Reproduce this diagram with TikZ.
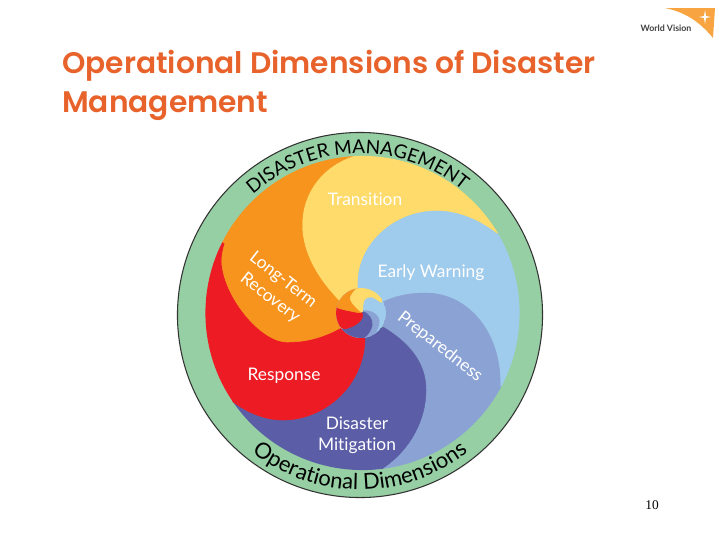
\documentclass[tikz,border=0pt]{standalone}
\usepackage{fontspec}
\usetikzlibrary{decorations.text}
\setmainfont{Liberation Serif}
\newfontfamily\titlefont[BoldFont={Poppins SemiBold}]{Poppins}
\newfontfamily\labelfont[Ligatures=NoCommon]{Lato}
\definecolor{ringgreen}{HTML}{97CFA4}
\definecolor{swirlyellow}{HTML}{FEDB6A}
\definecolor{swirlorange}{HTML}{F7941E}
\definecolor{swirlred}{HTML}{ED1C24}
\definecolor{swirldark}{HTML}{5B5EA6}
\definecolor{swirlperi}{HTML}{8BA2D4}
\definecolor{swirlblue}{HTML}{9FCBEC}
\definecolor{titleorange}{HTML}{E8632B}
\tikzset{
  petal/.style={fill=#1,draw=#1,line width=.4pt},
  titletext/.style={anchor=base west,inner sep=0pt,text=titleorange,font=\titlefont\bfseries\fontsize{22.3pt}{27pt}\selectfont},
  swirltext/.style={inner sep=0pt,text=white,font=\labelfont\fontsize{13pt}{15pt}\selectfont}
}
\newcommand{\hubshape}[2]{\path[petal=#1] plot[smooth cycle,tension=.6] coordinates {#2};}
\begin{document}
\begin{tikzpicture}[x=.75pt,y=.75pt]
  \useasboundingbox (0,0) rectangle (720,-540);

  % title
  \node[titletext] (title1) at (62,-73) {Operational Dimensions of Disaster};
  \node[titletext] (title2) at (62,-112) {Management};

  % logo
  \fill[swirlorange!85!white] (665,-8) -- (715,-8) -- (713,-38) .. controls (700,-22) and (685,-12) .. cycle;
  \fill[white] (705,-10) -- (706,-16) -- (711,-17) -- (706,-18) -- (705,-24) -- (704,-18) -- (699,-17) -- (704,-16) -- cycle;
  \node[inner sep=0pt,text=black!75,font=\labelfont\bfseries\fontsize{6.6pt}{7pt}\selectfont] (logo) at (666,-28) {World Vision};

  % ring
  \draw[fill=ringgreen,line width=.8pt,draw=black!80] (360,-315) circle (136.9pt);

  % petals
  \begin{scope}
    \clip (362.5,-313) circle (117.8pt);
    \path[petal=swirlyellow] (358,-290) -- (358,-283) .. controls (358,-245) and (393,-211) .. (437,-211) .. controls (460,-211) and (482,-222) .. (497,-234)
      -- (530,-215) -- (530,-130) -- (350,-130) -- (353,-156)
      .. controls (325,-165) and (302,-190) .. (302,-225) .. controls (302,-255) and (320,-282) .. (340,-302) -- cycle;
    \path[petal=swirlblue] (383,-302) .. controls (395,-296) and (410,-293) .. (425,-293) .. controls (470,-293) and (502,-335) .. (500,-387)
      -- (540,-395) -- (540,-215) -- (497,-234)
      .. controls (482,-222) and (460,-211) .. (437,-211) .. controls (393,-211) and (358,-245) .. (358,-283) -- (358,-290) -- cycle;
    \path[petal=swirlperi] (383,-327) .. controls (408,-342) and (426,-362) .. (426,-390) .. controls (426,-420) and (410,-450) .. (383,-468)
      -- (385,-490) -- (540,-490) -- (540,-395) -- (500,-387)
      .. controls (502,-335) and (470,-293) .. (425,-293) .. controls (410,-293) and (395,-296) .. (383,-302) -- cycle;
    \path[petal=swirldark] (365,-337) .. controls (365,-385) and (325,-420) .. (283,-420) .. controls (262,-420) and (242,-410) .. (227,-397)
      -- (205,-410) -- (205,-490) -- (385,-490) -- (383,-468)
      .. controls (410,-450) and (426,-420) .. (426,-390) .. controls (426,-362) and (408,-342) .. (383,-327) -- cycle;
    \path[petal=swirlred] (340,-328) .. controls (322,-338) and (305,-342) .. (287,-342) .. controls (262,-342) and (226,-300) .. (222,-265) .. controls (221,-257) and (223,-250) .. (225,-243)
      -- (190,-230) -- (190,-410) -- (205,-410) -- (227,-397)
      .. controls (242,-410) and (262,-420) .. (283,-420) .. controls (325,-420) and (365,-385) .. (365,-337) -- cycle;
    \path[petal=swirlorange] (340,-302) .. controls (320,-282) and (302,-255) .. (302,-225) .. controls (302,-190) and (325,-165) .. (353,-156)
      -- (350,-130) -- (190,-130) -- (190,-230) -- (225,-243)
      .. controls (223,-250) and (221,-257) .. (222,-265) .. controls (226,-300) and (262,-342) .. (287,-342) .. controls (305,-342) and (322,-338) .. (340,-328) -- cycle;
  \end{scope}

  % hub
  \begin{scope}
    \clip (361,-313) circle (18.75pt);
    \fill[swirlblue] (361,-313) circle (18.75pt);
    \hubshape{swirlperi}{(361.5,-312) (372,-312) (379,-320) (375,-333) (362,-340) (370,-325)}
    \hubshape{swirldark}{(361.5,-312) (370,-317) (372,-326) (365,-337) (352,-340) (342,-330) (352,-325)}
    \hubshape{swirlred}{(361.5,-312) (362,-318) (358,-323) (351,-327) (342,-328) (332,-315) (336,-305) (350,-311)}
    \hubshape{swirlorange}{(361.5,-312) (350,-311) (336,-307) (330,-300) (345,-285) (362,-285) (352,-294) (351,-301)}
    \hubshape{swirlyellow}{(361.5,-312) (351,-301) (352,-294) (362,-285) (375,-287) (382,-302) (372,-297) (365,-299) (363,-305)}
  \end{scope}

  % labels
  \node[swirltext] (transition) at (365,-199.5) {Transition};
  \node[swirltext] (warning) at (431,-272.5) {Early Warning};
  \node[swirltext] (response) at (284,-376) {Response};
  \node[swirltext] (disaster) at (357,-423.5) {Disaster};
  \node[swirltext] (mitigation) at (357,-445.5) {Mitigation};
  \node[swirltext,rotate=-38] (longterm) at (283,-280) {Long-Term};
  \node[swirltext,rotate=-38] (recovery) at (270,-298) {Recovery};
  \node[swirltext,rotate=-38] (preparedness) at (440,-347) {Preparedness};

  % ring texts
  \path[decorate,decoration={text along path,text align=center,text={|\labelfont\fontsize{14.2pt}{18pt}\selectfont|DISASTER MANAGEMENT}}]
    (360,-315) ++(141:121pt) arc[start angle=141,end angle=41,radius=121pt];
  \path[decorate,decoration={text along path,text align=center,text={|\labelfont\fontsize{16.5pt}{20pt}\selectfont|Operational Dimensions}}]
    (360,-315) ++(220:131pt) arc[start angle=220,end angle=320,radius=131pt];

  % page number
  \node[inner sep=0pt,font=\fontsize{10pt}{11pt}\selectfont] (pagenum) at (652,-505) {10};
\end{tikzpicture}
\end{document}
